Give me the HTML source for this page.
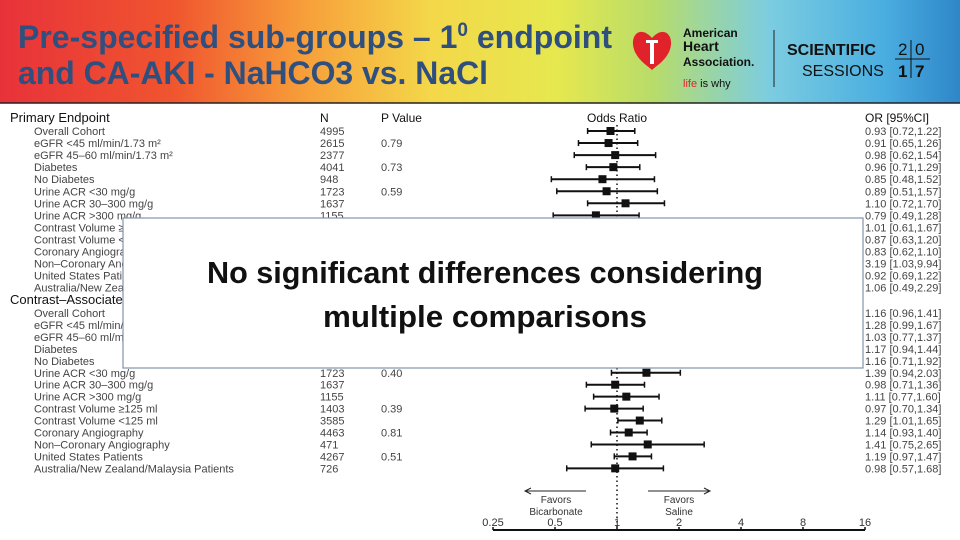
<!DOCTYPE html>
<html><head><meta charset="utf-8">
<style>
html,body{margin:0;padding:0;width:960px;height:540px;overflow:hidden;background:#fff}
svg{display:block}
text{font-family:"Liberation Sans",sans-serif}
</style></head>
<body>
<svg id="c" width="960" height="540" viewBox="0 0 960 540" xmlns="http://www.w3.org/2000/svg">
<defs>
<linearGradient id="bg" x1="0" x2="1" y1="0" y2="0">
<stop offset="0" stop-color="#e8323a"/>
<stop offset="0.18" stop-color="#f0552f"/>
<stop offset="0.32" stop-color="#f7a03a"/>
<stop offset="0.45" stop-color="#f4d84a"/>
<stop offset="0.58" stop-color="#e6e84e"/>
<stop offset="0.68" stop-color="#b8dc6a"/>
<stop offset="0.8" stop-color="#7ccde0"/>
<stop offset="0.92" stop-color="#4aaee0"/>
<stop offset="1" stop-color="#2f86c8"/>
</linearGradient>
</defs>
<g>
<rect x="0" y="0" width="960" height="103" fill="url(#bg)"/>
<text x="18" y="48" font-size="32" font-weight="bold" fill="#2f4f7f" textLength="594" lengthAdjust="spacingAndGlyphs">Pre-specified sub-groups – 1<tspan font-size="19" dy="-12">0</tspan><tspan dy="12"> endpoint</tspan></text>
<text x="18" y="84" font-size="32" font-weight="bold" fill="#2f4f7f" textLength="470" lengthAdjust="spacingAndGlyphs">and CA-AKI - NaHCO3 vs. NaCl</text>
<path d="M652,38 C640,24 628,36 635,52 C640,62 648,66 652,70 C656,66 664,62 669,52 C676,36 664,24 652,38Z" fill="#e2222a"/>
<rect x="650" y="42" width="4" height="22" fill="#fff"/><rect x="646" y="40" width="12" height="3" fill="#fff"/>
<text x="683" y="37" font-size="12" font-weight="bold" fill="#111">American</text>
<text x="683" y="51" font-size="14" font-weight="bold" fill="#111">Heart</text>
<text x="683" y="66" font-size="12" font-weight="bold" fill="#111">Association.</text>
<text x="683" y="87" font-size="11" fill="#111"><tspan fill="#e2222a">life</tspan> is why</text>
<line x1="774" y1="30" x2="774" y2="87" stroke="#222" stroke-width="1"/>
<text x="787" y="55" font-size="16" font-weight="bold" fill="#111">SCIENTIFIC</text>
<text x="802" y="76" font-size="16" fill="#111">SESSIONS</text>
<text x="898" y="55" font-size="17" fill="#111">2</text><text x="915" y="55" font-size="17" fill="#111">0</text>
<text x="898" y="77" font-size="17" font-weight="bold" fill="#111">1</text><text x="915" y="77" font-size="17" font-weight="bold" fill="#111">7</text>
<line x1="911" y1="40" x2="911" y2="78" stroke="#111"/><line x1="895" y1="59" x2="930" y2="59" stroke="#111"/>
</g>
<line x1="0" y1="103" x2="960" y2="103" stroke="#222" stroke-width="1.5"/>
<g id="plot"></g>
<g>
<rect x="123" y="218" width="740" height="150" fill="#fff" stroke="#8494aa" stroke-width="1.2"/>
<text x="485" y="283" font-size="31" font-weight="bold" text-anchor="middle" textLength="556" lengthAdjust="spacingAndGlyphs" fill="#111">No significant differences considering</text>
<text x="485" y="327" font-size="31" font-weight="bold" text-anchor="middle" textLength="324" lengthAdjust="spacingAndGlyphs" fill="#111">multiple comparisons</text>
</g>
</svg>
<script>
const labels = ["Overall Cohort","eGFR <45 ml/min/1.73 m²","eGFR 45–60 ml/min/1.73 m²","Diabetes","No Diabetes","Urine ACR <30 mg/g","Urine ACR 30–300 mg/g","Urine ACR >300 mg/g","Contrast Volume ≥125 ml","Contrast Volume <125 ml","Coronary Angiography","Non–Coronary Angiography","United States Patients","Australia/New Zealand/Malaysia Patients"];
const nValues = [4995,2615,2377,4041,948,1723,1637,1155,1403,3585,4463,471,4267,726];
const pPrimary = ["","0.79","","0.73","","0.59","","","0.31","","0.33","","0.61",""];
const orPrimary = [0.93,0.91,0.98,0.96,0.85,0.89,1.10,0.79,1.01,0.87,0.83,3.19,0.92,1.06];
const loPrimary = [0.72,0.65,0.62,0.71,0.48,0.51,0.72,0.49,0.61,0.63,0.62,1.03,0.69,0.49];
const hiPrimary = [1.22,1.26,1.54,1.29,1.52,1.57,1.70,1.28,1.67,1.20,1.10,9.94,1.22,2.29];
const pContrast = ["","0.41","","0.85","","0.40","","","0.39","","0.81","","0.51",""];
const orContrast = [1.16,1.28,1.03,1.17,1.16,1.39,0.98,1.11,0.97,1.29,1.14,1.41,1.19,0.98];
const loContrast = [0.96,0.99,0.77,0.94,0.71,0.94,0.71,0.77,0.70,1.01,0.93,0.75,0.97,0.57];
const hiContrast = [1.41,1.67,1.37,1.44,1.92,2.03,1.36,1.60,1.34,1.65,1.40,2.65,1.47,1.68];
const xTicks = [0.25,0.5,1,2,4,8,16];
const xTickLabels = ["0.25","0.5","1","2","4","8","16"];

const NS="http://www.w3.org/2000/svg";
const g=document.getElementById('plot');
const xs=v=>617+62*Math.log2(v);
const rowY=(sec,i)=>sec===0?131+i*12.05:313+i*11.95;
function mk(tag,a,parent){const e=document.createElementNS(NS,tag);for(const k in a)e.setAttribute(k,a[k]);(parent||g).appendChild(e);return e;}
function txt(x,y,s,size,extra){const e=mk('text',Object.assign({x:x,y:y,'font-size':size,fill:'#333'},extra||{}));e.textContent=s;return e;}

let h;
h=txt(10,122,"Primary Endpoint",13,{fill:'#111'});


h=txt(320,122,"N",12,{fill:'#111'});


h=txt(381,122,"P Value",12,{fill:'#111'});


h=txt(617,122,"Odds Ratio",12,{fill:'#111','text-anchor':'middle'});


h=txt(865,122,"OR  [95%CI]",12,{fill:'#111'});


h=txt(10,304,"Contrast–Associated AKI",13,{fill:'#111'});



const ref=mk('line',{x1:xs(1),x2:xs(1),y1:125,y2:530,stroke:'#111','stroke-width':1.5,'stroke-dasharray':'1.5,3'});



const sections=[[orPrimary,loPrimary,hiPrimary,pPrimary],[orContrast,loContrast,hiContrast,pContrast]];
sections.forEach((s,sec)=>{
  const [or,lo,hi,p]=s;
  for(let i=0;i<labels.length;i++){
    const y=rowY(sec,i);
    const row=mk('g',{});
    
    
    const l=mk('text',{x:34,y:y+4,'font-size':11,fill:'#444'},row);l.textContent=labels[i];
    const n=mk('text',{x:320,y:y+4,'font-size':11,fill:'#444'},row);n.textContent=nValues[i];
    const pv=mk('text',{x:381,y:y+4,'font-size':11,fill:'#444'},row);pv.textContent=p[i];
    const ci=mk('line',{x1:xs(lo[i]),x2:xs(hi[i]),y1:y,y2:y,stroke:'#111','stroke-width':2},row);
    
    
    mk('line',{x1:xs(lo[i]),x2:xs(lo[i]),y1:y-3,y2:y+3,stroke:'#111','stroke-width':1.5},row);
    mk('line',{x1:xs(hi[i]),x2:xs(hi[i]),y1:y-3,y2:y+3,stroke:'#111','stroke-width':1.5},row);
    const sq=mk('rect',{x:xs(or[i])-4,y:y-4,width:8,height:8,fill:'#111'},row);
    
    
    const ot=mk('text',{x:865,y:y+4,'font-size':11,fill:'#444'},row);
    ot.textContent=or[i].toFixed(2)+" ["+lo[i].toFixed(2)+","+hi[i].toFixed(2)+"]";
  }
});

const ax=mk('line',{x1:xs(0.25),x2:xs(16),y1:530,y2:530,stroke:'#111','stroke-width':2});


xTicks.forEach((t,i)=>{
  mk('line',{x1:xs(t),x2:xs(t),y1:530,y2:527,stroke:'#111','stroke-width':1.5});
  const tl=txt(xs(t),526,xTickLabels[i],11,{'text-anchor':'middle','fill':'#333'});
  
  
});
mk('path',{d:'M586,491 H525 M531,488 L525,491 L531,494',stroke:'#222',fill:'none','stroke-width':1});
mk('path',{d:'M648,491 H710 M704,488 L710,491 L704,494',stroke:'#222',fill:'none','stroke-width':1});
h=txt(556,503,"Favors",10,{'text-anchor':'middle'});


txt(556,515,"Bicarbonate",10,{'text-anchor':'middle'});
h=txt(679,503,"Favors",10,{'text-anchor':'middle'});


txt(679,515,"Saline",10,{'text-anchor':'middle'});
</script>
</body></html>
